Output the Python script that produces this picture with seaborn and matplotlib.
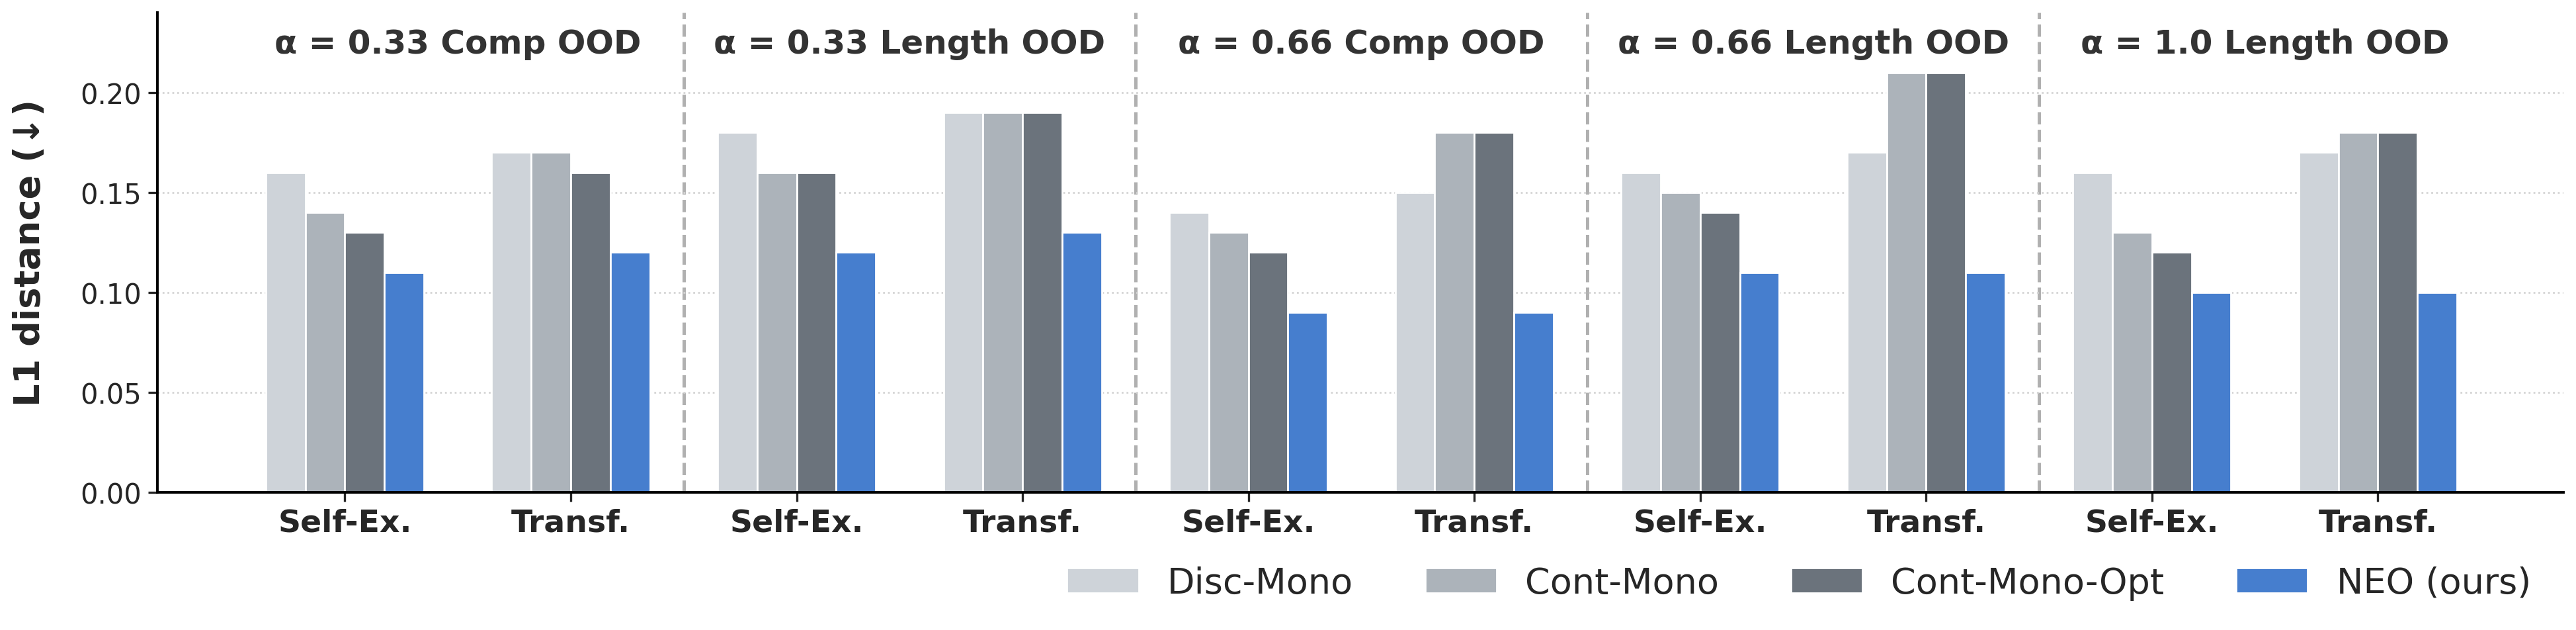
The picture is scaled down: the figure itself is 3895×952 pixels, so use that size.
import pandas as pd
import matplotlib.pyplot as plt
import matplotlib.patches as mpatches
import seaborn as sns

# --- dane ---
settings = ['α = 0.33 Comp OOD', 'α = 0.33 Length OOD', 'α = 0.66 Comp OOD',
            'α = 0.66 Length OOD', 'α = 1.0 Length OOD']
models = ['Self-Ex.', 'Transf.']
methods = ['Disc-Mono', 'Cont-Mono', 'Cont-Mono-Opt', 'NEO (ours)']

disc_mono = [0.16, 0.17, 0.18, 0.19, 0.14, 0.15, 0.16, 0.17, 0.16, 0.17]
cont_mono = [0.14, 0.17, 0.16, 0.19, 0.13, 0.18, 0.15, 0.21, 0.13, 0.18]
cont_mono_opt = [0.13, 0.16, 0.16, 0.19, 0.12, 0.18, 0.14, 0.21, 0.12, 0.18]
neo = [0.11, 0.12, 0.12, 0.13, 0.09, 0.09, 0.11, 0.11, 0.10, 0.10]

colors = ['#ced3d9', '#acb3ba', '#6b737c', '#467ece']

rows = []
for name, vals in zip(methods, [disc_mono, cont_mono, cont_mono_opt, neo]):
    for i, v in enumerate(vals):
        rows.append({'slot': i, 'Method': name, 'L1': v})
df = pd.DataFrame(rows)

sns.set_style('white')
plt.rcParams['font.family'] = ['DejaVu Sans']

fig = plt.figure(figsize=(19.475, 4.765), dpi=200)
ax = fig.add_axes([0.0611, 0.2183, 0.9339, 0.7607])

sns.barplot(data=df, x='slot', y='L1', hue='Method', hue_order=methods,
            palette=colors, saturation=1, width=0.7, edgecolor='white',
            linewidth=1, ax=ax, legend=False)

ax.set_xlim(-0.83, 9.82)
ax.set_ylim(0, 0.24)
ax.set_yticks([0.0, 0.05, 0.10, 0.15, 0.20])
ax.set_yticklabels([f'{t:.2f}' for t in [0.0, 0.05, 0.10, 0.15, 0.20]], fontsize=15)
ax.set_xticks(range(10))
ax.set_xticklabels(models * len(settings), fontsize=17, fontweight='bold')
ax.tick_params(axis='both', which='major', length=5, width=1.2, direction='out',
               bottom=True, left=True)
ax.set_xlabel('')
ax.set_ylabel('L1 distance (↓)', fontsize=19.5, fontweight='bold')
ax.yaxis.set_label_coords(-0.046, 0.5)

ax.grid(axis='y', linestyle=':', color='#d5d5d5', linewidth=1)
ax.set_axisbelow(True)
for s in ['top', 'right']:
    ax.spines[s].set_visible(False)
for s in ['left', 'bottom']:
    ax.spines[s].set_color('black')
    ax.spines[s].set_linewidth(1.4)

# separatory i tytuły sekcji
for k in range(1, len(settings)):
    ax.axvline(2 * k - 0.5, color='#b0b0b0', linestyle='--', linewidth=1.8, zorder=0)
for k, title in enumerate(settings):
    ax.text(2 * k + 0.5, 0.2245, title, ha='center', va='center',
            fontsize=18, fontweight='bold', color='#333333')

handles = [mpatches.Patch(facecolor=c, edgecolor='white', label=m)
           for c, m in zip(colors, methods)]
fig.legend(handles=handles, loc='center right', bbox_to_anchor=(0.995, 0.075),
           ncol=4, frameon=False, fontsize=19.5)

fig.savefig('out.png', dpi=200)
